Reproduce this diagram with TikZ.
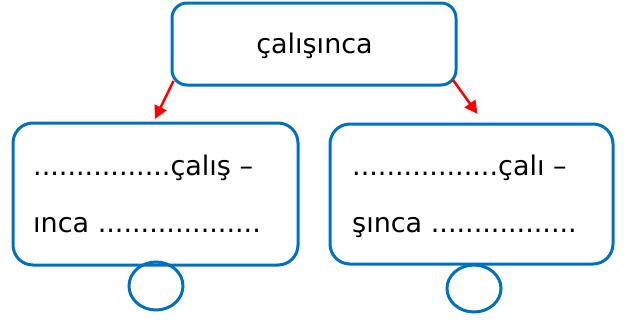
\documentclass[tikz,border=0pt]{standalone}
\usepackage{fontspec}
\setmainfont{DejaVu Sans}
\usetikzlibrary{arrows.meta}
\definecolor{boxblue}{HTML}{0070C0}
\definecolor{arrred}{HTML}{FF0000}
\begin{document}
\begin{tikzpicture}[x=1pt,y=-1pt,
  box/.style={draw=boxblue,line width=3pt,rounded corners=#1,inner sep=0pt},
  box/.default=20pt,
  txt/.style={inner sep=0pt,anchor=base west,font=\fontsize{27}{32}\selectfont},
  ring/.style={draw=boxblue,line width=3pt,ellipse,inner sep=0pt},
  arr/.style={draw=arrred,line width=2.5pt,-{Triangle[length=13pt,width=13pt]}}]
\useasboundingbox (0,0) rectangle (633,322);
% top box
\node[box=15pt,minimum width=284pt,minimum height=82pt] (top) at (314,44) {};
\node[txt,anchor=base] (toptxt) at (314.5,53) {çalışınca};
% lower boxes
\node[box,minimum width=285pt,minimum height=142pt] (left) at (155.5,194) {};
\node[box,minimum width=283pt,minimum height=140pt] (right) at (471.5,194) {};
% texts
\node[txt] (l1) at (33,175) {................çalış –};
\node[txt] (l2) at (33,232) {ınca ...................};
\node[txt] (r1) at (352,175) {.................çalı –};
\node[txt] (r2) at (352,232) {şınca .................};
% circles
\draw[boxblue,line width=3pt] (156,286) ellipse [x radius=27, y radius=24];
\draw[boxblue,line width=3pt] (474,288.5) ellipse [x radius=27, y radius=23.5];
% arrows
\coordinate (ls) at (173.5,81);
\coordinate (le) at (155,119);
\coordinate (rs) at (453,80);
\coordinate (re) at (477.5,114);
\draw[arr] (ls) -- (le);
\draw[arr] (rs) -- (re);
\end{tikzpicture}
\end{document}
